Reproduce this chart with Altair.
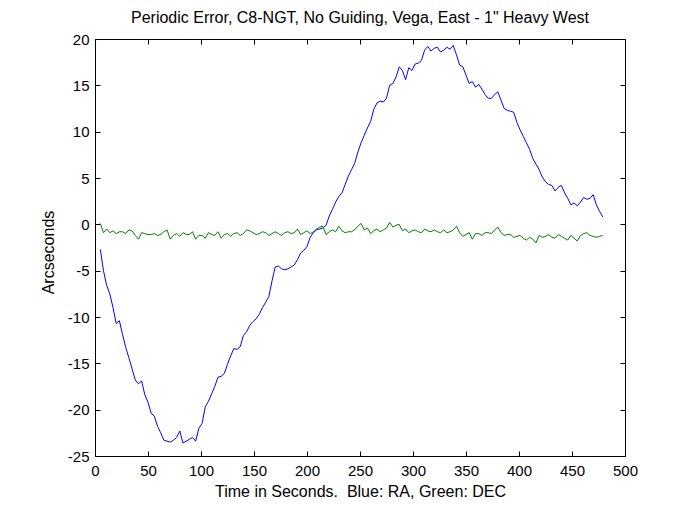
import altair as alt
import pandas as pd

FONT = "Liberation Sans"

# Sampling grid (seconds)
times = list(range(5, 480, 3))

# RA error (blue), arcseconds
ra = [
    -2.7, -5.0, -6.6, -7.5, -9.0, -10.7, -10.4, -11.9, -13.3, -14.4,
    -15.6, -16.8, -17.2, -16.9, -18.4, -19.2, -20.4, -20.7, -21.8, -22.5,
    -23.3, -23.4, -23.5, -23.3, -23.0, -22.3, -23.6, -23.4, -23.2, -23.0,
    -23.4, -22.0, -21.5, -19.7, -19.1, -18.3, -17.5, -16.5, -16.4, -16.1,
    -15.1, -14.2, -13.4, -13.5, -13.2, -12.0, -11.6, -10.9, -10.5, -10.2,
    -9.7, -9.0, -8.4, -7.8, -6.1, -4.6, -4.5, -4.8, -4.9, -4.8,
    -4.6, -4.4, -3.8, -3.1, -2.8, -2.4, -1.4, -0.9, -0.6, -0.5,
    -0.4, -0.1, 0.9, 1.6, 2.4, 3.0, 3.4, 4.3, 5.2, 5.9,
    6.6, 7.8, 8.8, 9.6, 10.4, 11.1, 12.4, 13.1, 13.3, 13.2,
    13.6, 15.0, 15.2, 15.9, 17.0, 16.6, 15.6, 16.9, 16.6, 17.3,
    17.4, 17.7, 18.8, 19.2, 18.7, 19.0, 19.1, 18.6, 18.8, 19.1,
    18.9, 19.3, 18.3, 17.2, 17.0, 16.1, 15.2, 15.4, 14.8, 15.1,
    14.6, 14.0, 13.6, 13.6, 14.0, 14.3, 13.4, 12.5, 12.3, 12.2,
    12.1, 11.0, 10.2, 9.5, 8.8, 8.1, 7.1, 6.5, 5.9, 5.1,
    4.6, 4.3, 4.2, 3.6, 4.0, 4.2, 3.4, 2.8, 2.1, 2.3,
    2.0, 2.4, 2.9, 2.7, 2.8, 3.2, 2.1, 1.4, 0.8,
]

# DEC error (green), arcseconds
dec = [
    0.1, -0.9, -0.5, -0.9, -0.7, -1.0, -0.8, -0.8, -1.0, -0.6,
    -0.7, -1.2, -1.6, -0.9, -1.0, -1.1, -1.1, -1.0, -1.2, -1.1,
    -0.8, -0.6, -1.6, -1.2, -1.0, -1.3, -0.9, -1.1, -1.1, -0.8,
    -1.6, -1.2, -1.2, -1.5, -0.9, -1.1, -1.2, -0.8, -1.5, -1.1,
    -1.0, -1.3, -1.0, -0.9, -1.2, -1.0, -0.6, -0.7, -0.9, -1.1,
    -1.0, -0.8, -0.9, -1.2, -1.0, -0.8, -1.0, -1.2, -0.9, -0.8,
    -1.0, -0.9, -0.5, -1.1, -0.9, -0.7, -1.0, -0.8, -0.5, -0.3,
    -0.2, -1.1, -0.8, -0.6, -0.8, -0.2, -0.7, -0.9, -0.8, -0.8,
    -0.6, -0.2, 0.1, -0.6, -0.4, -1.0, -0.7, -0.5, -0.8, -0.6,
    -0.4, 0.2, -0.3, -0.1, 0.0, -0.7, -0.5, -0.9, -0.7, -0.6,
    -0.8, -0.9, -0.5, -0.7, -0.8, -0.6, -0.8, -0.9, -0.6, -0.9,
    -0.8, -0.6, -0.2, -0.9, -1.3, -1.1, -0.9, -1.6, -1.0, -1.0,
    -1.2, -0.9, -0.9, -1.0, -0.6, -0.3, -0.9, -1.2, -1.1, -1.1,
    -1.4, -1.3, -1.2, -1.5, -1.7, -1.4, -1.6, -2.0, -1.2, -1.4,
    -1.3, -1.1, -1.4, -1.5, -1.1, -1.3, -1.5, -1.7, -1.2, -1.5,
    -1.8, -1.2, -1.0, -0.9, -1.2, -1.3, -1.4, -1.3, -1.2,
]

x_ticks = [0, 50, 100, 150, 200, 250, 300, 350, 400, 450, 500]
y_ticks = [-25, -20, -15, -10, -5, 0, 5, 10, 15, 20]

assert len(times) == len(ra) == len(dec)

df_ra = pd.DataFrame({"t": times, "v": ra})
df_dec = pd.DataFrame({"t": times, "v": dec})

W, H = 530, 417
xs = alt.Scale(domain=[0, 500], nice=False, zero=False)
ys = alt.Scale(domain=[-25, 20], nice=False, zero=False)

lab = dict(labelFont=FONT, labelFontSize=15, labelColor="black",
           labelExpr="'' + datum.value", labelFlush=False)
tick_only = dict(labels=False, domain=False, grid=False, ticks=True,
                 tickSize=5, tickColor="black", tickWidth=1, title=None)

blue = alt.Chart(df_ra).mark_line(color="#0000ff", strokeWidth=1).encode(
    x=alt.X("t:Q", scale=xs, axis=alt.Axis(
        orient="bottom", values=x_ticks, ticks=False, domain=False, grid=False,
        labelPadding=7, **lab,
        title="Time in Seconds.\u00a0 Blue: RA, Green: DEC",
        titleFont=FONT, titleFontSize=16, titleFontWeight="normal",
        titleColor="black", titleY=40, titleBaseline="alphabetic")),
    y=alt.Y("v:Q", scale=ys, axis=alt.Axis(
        orient="left", values=y_ticks, ticks=False, domain=False, grid=False,
        labelPadding=6, **lab,
        title="Arcseconds", titleFont=FONT, titleFontSize=16,
        titleFontWeight="normal", titleColor="black", titleAngle=270,
        titleX=-42, titleY=213, titleAlign="center",
        titleBaseline="alphabetic")),
)

green = alt.Chart(df_dec).mark_line(color="#008000", strokeWidth=1).encode(
    x=alt.X("t:Q", scale=xs, axis=alt.Axis(
        orient="top", offset=-H, values=x_ticks, **tick_only)),
    y=alt.Y("v:Q", scale=ys, axis=alt.Axis(
        orient="right", offset=-W, values=y_ticks, **tick_only)),
)

frame_ticks = alt.Chart(df_dec).mark_line(opacity=0).encode(
    x=alt.X("t:Q", scale=xs, axis=alt.Axis(
        orient="bottom", offset=-H, values=x_ticks, **tick_only)),
    y=alt.Y("v:Q", scale=ys, axis=alt.Axis(
        orient="left", offset=-W, values=y_ticks, **tick_only)),
)

chart = alt.layer(blue, green, frame_ticks).resolve_axis(
    x="independent", y="independent"
).properties(
    width=W, height=H,
    title=alt.TitleParams(
        "Periodic Error, C8-NGT, No Guiding, Vega, East - 1\" Heavy West",
        font=FONT, fontSize=16, fontWeight="normal", color="black",
        anchor="middle", baseline="alphabetic", offset=15, dy=22),
    padding={"left": 95, "top": 39, "right": 58, "bottom": 56},
    autosize=alt.AutoSizeParams(type="none"),
    background="white",
).configure_view(stroke="black", strokeWidth=1)

chart.save("out.html", embed_options={"renderer": "svg", "actions": False})
